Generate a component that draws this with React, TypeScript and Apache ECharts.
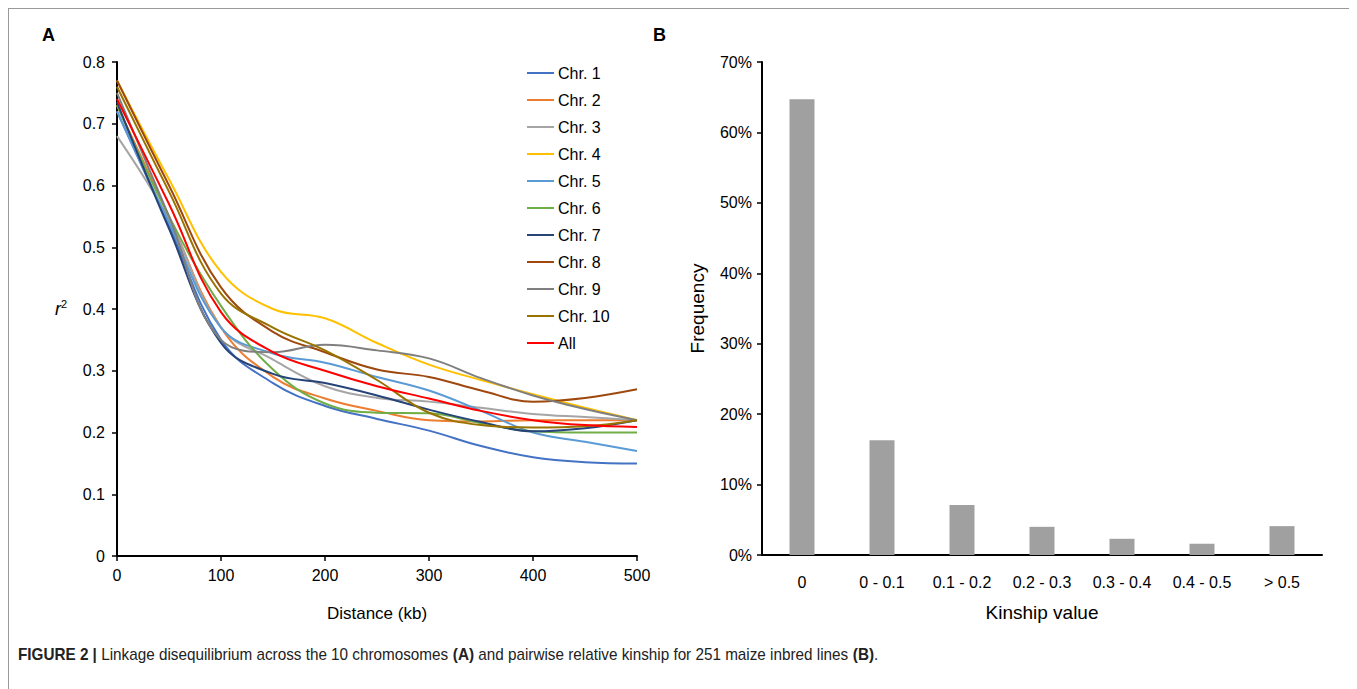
import React, { useEffect, useRef } from "react";
import * as echarts from "echarts";

const distances = [0, 50, 100, 150, 200, 250, 300, 350, 400, 450, 500];
const seriesNames = ["Chr. 1", "Chr. 2", "Chr. 3", "Chr. 4", "Chr. 5", "Chr. 6", "Chr. 7", "Chr. 8", "Chr. 9", "Chr. 10", "All"];
const seriesColors = ["#4472C4", "#ED7D31", "#A5A5A5", "#FFC000", "#5B9BD5", "#70AD47", "#264478", "#9E480E", "#7F7F7F", "#997300", "#FF0000"];

const chr1 = [0.72, 0.535, 0.35, 0.28, 0.243, 0.222, 0.203, 0.178, 0.16, 0.152, 0.15];
const chr2 = [0.73, 0.55, 0.37, 0.29, 0.255, 0.235, 0.22, 0.218, 0.22, 0.22, 0.22];
const chr3 = [0.68, 0.545, 0.37, 0.318, 0.275, 0.256, 0.25, 0.24, 0.23, 0.225, 0.22];
const chr4 = [0.77, 0.61, 0.46, 0.4, 0.385, 0.345, 0.31, 0.285, 0.262, 0.24, 0.22];
const chr5 = [0.72, 0.54, 0.37, 0.328, 0.313, 0.29, 0.268, 0.235, 0.2, 0.185, 0.17];
const chr6 = [0.73, 0.55, 0.405, 0.302, 0.247, 0.232, 0.231, 0.215, 0.202, 0.2, 0.2];
const chr7 = [0.735, 0.53, 0.345, 0.295, 0.28, 0.26, 0.237, 0.217, 0.202, 0.207, 0.22];
const chr8 = [0.77, 0.6, 0.435, 0.363, 0.33, 0.302, 0.29, 0.268, 0.25, 0.256, 0.27];
const chr9 = [0.75, 0.55, 0.35, 0.33, 0.342, 0.333, 0.32, 0.288, 0.26, 0.238, 0.22];
const chr10 = [0.76, 0.59, 0.425, 0.37, 0.333, 0.285, 0.232, 0.212, 0.208, 0.21, 0.22];
const allChr = [0.74, 0.57, 0.395, 0.33, 0.3, 0.275, 0.255, 0.235, 0.22, 0.212, 0.209];
const ldValues = [chr1, chr2, chr3, chr4, chr5, chr6, chr7, chr8, chr9, chr10, allChr];

const kinshipCategories = ["0", "0 - 0.1", "0.1 - 0.2", "0.2 - 0.3", "0.3 - 0.4", "0.4 - 0.5", "> 0.5"];
const kinshipFreq = [0.647, 0.163, 0.071, 0.04, 0.023, 0.016, 0.041];

const FONT = "'Liberation Sans', Arial, sans-serif";

export default function App() {
  const ref = useRef<HTMLDivElement>(null);
  useEffect(() => {
    if (!ref.current) return;
    const chart = echarts.init(ref.current, null, { renderer: "svg" });
    const axisLine = { show: true, lineStyle: { color: "#000", width: 2 } };
    const lineSeries = seriesNames.map((name, i) => ({
      name,
      type: "line",
      xAxisIndex: 0,
      yAxisIndex: 0,
      data: distances.map((d, j) => [d, ldValues[i][j]]),
      smooth: 0.4,
      symbol: "none",
      lineStyle: { color: seriesColors[i], width: 2 },
      itemStyle: { color: seriesColors[i] },
      z: i === 10 ? 5 : 2,
    }));
    chart.setOption({
      animation: false,
      textStyle: { fontFamily: FONT },
      legend: {
        orient: "vertical",
        left: 513,
        top: 51,
        icon: "rect",
        itemWidth: 27,
        itemHeight: 2,
        itemGap: 11,
        data: seriesNames,
        textStyle: { fontSize: 16, lineHeight: 16, color: "#000", fontFamily: FONT, padding: [0, 0, 0, -1] },
      },
      grid: [
        { left: 108, top: 53, width: 520, height: 494 },
        { left: 753, top: 53, width: 560, height: 493 },
      ],
      xAxis: [
        {
          gridIndex: 0,
          type: "value",
          min: 0,
          max: 500,
          interval: 100,
          axisLine,
          axisTick: { show: true, length: 5, lineStyle: { color: "#000", width: 1.5 } },
          axisLabel: { fontSize: 16, color: "#000", margin: 11 },
          splitLine: { show: false },
          name: "Distance (kb)",
          nameLocation: "middle",
          nameGap: 49,
          nameTextStyle: { fontSize: 17, color: "#000" },
        },
        {
          gridIndex: 1,
          type: "category",
          data: kinshipCategories,
          axisLine,
          axisTick: { show: false },
          axisLabel: { fontSize: 16, color: "#000", margin: 19, interval: 0 },
          name: "Kinship value",
          nameLocation: "middle",
          nameGap: 48,
          nameTextStyle: { fontSize: 19, color: "#000" },
        },
      ],
      yAxis: [
        {
          gridIndex: 0,
          type: "value",
          min: 0,
          max: 0.8,
          interval: 0.1,
          axisLine,
          axisTick: { show: true, length: 5, lineStyle: { color: "#000", width: 1.5 } },
          axisLabel: { fontSize: 16, color: "#000", margin: 12, formatter: (v: number) => (v === 0 ? "0" : v.toFixed(1)) },
          splitLine: { show: false },
          name: "{r|r}{s|2}",
          nameLocation: "middle",
          nameRotate: 0,
          nameGap: 50,
          nameTextStyle: {
            rich: {
              r: { fontSize: 18, fontStyle: "italic", color: "#000", fontFamily: FONT },
              s: { fontSize: 11, color: "#000", verticalAlign: "top", padding: [0, 0, 10, 0], fontFamily: FONT },
            },
          },
        },
        {
          gridIndex: 1,
          type: "value",
          min: 0,
          max: 0.7,
          interval: 0.1,
          axisLine,
          axisTick: { show: true, length: 5, lineStyle: { color: "#000", width: 1.5 } },
          axisLabel: { fontSize: 16, color: "#000", margin: 10, formatter: (v: number) => Math.round(v * 100) + "%" },
          splitLine: { show: false },
          name: "Frequency",
          nameLocation: "middle",
          nameGap: 55,
          nameTextStyle: { fontSize: 19, color: "#000" },
        },
      ],
      series: [
        ...lineSeries,
        {
          name: "Frequency",
          type: "bar",
          xAxisIndex: 1,
          yAxisIndex: 1,
          data: kinshipFreq,
          barWidth: 25,
          itemStyle: { color: "#A0A0A0" },
        },
      ],
      graphic: [
        { type: "text", left: 33, top: 17, style: { text: "A", fontSize: 18, fontWeight: "bold", fill: "#000", fontFamily: FONT } },
        { type: "text", left: 644, top: 17, style: { text: "B", fontSize: 18, fontWeight: "bold", fill: "#000", fontFamily: FONT } },
        {
          type: "text",
          x: 9,
          y: 637,
          scaleX: 0.955,
          style: {
            text: "{b|FIGURE 2 |} Linkage disequilibrium across the 10 chromosomes {b|(A)} and pairwise relative kinship for 251 maize inbred lines {b|(B)}.",
            fontSize: 16,
            fill: "#222",
            fontFamily: FONT,
            rich: {
              b: { fontWeight: "bold", fontSize: 16, fill: "#222", fontFamily: FONT },
            },
          },
        },
      ],
    });
    return () => chart.dispose();
  }, []);
  return (
    <div style={{ border: "1px solid #999", width: 1340, height: 700, boxSizing: "content-box" }}>
      <div ref={ref} style={{ width: 1340, height: 680 }} />
    </div>
  );
}
